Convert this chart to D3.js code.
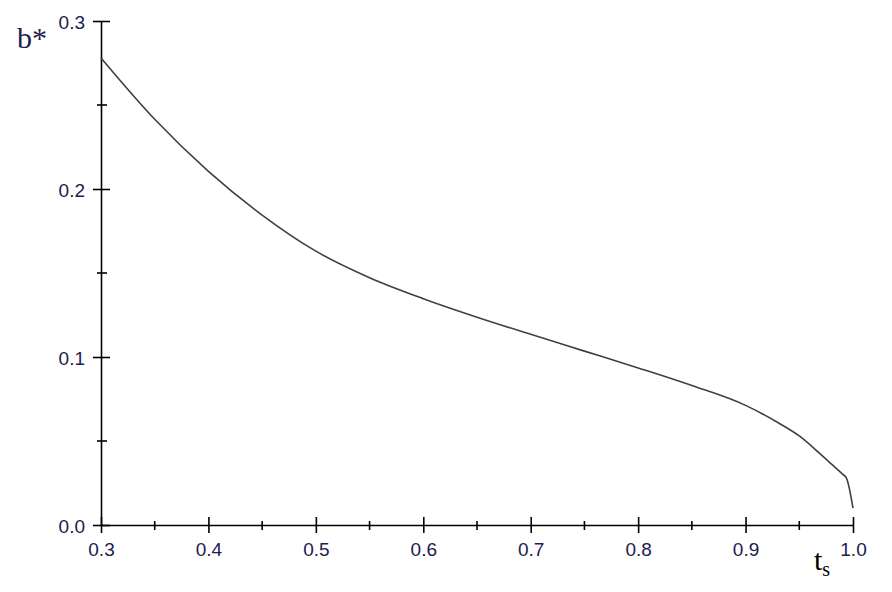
<!DOCTYPE html>
<meta charset="utf-8">
<style>
    body { margin: 0; background: #fff; }
    .axis path, .axis line { stroke: #000; stroke-width: 1.6px; }
    .axis text { font-family: "Liberation Sans", sans-serif; font-size: 19px; fill: #1c2050; }
    .title { font-family: "Liberation Serif", serif; }
</style>
<svg width="892" height="592"></svg>
<script src="https://cdn.jsdelivr.net/npm/d3@7"></script>
<script>

// curve b* against t_s
var ts = [0.30, 0.35, 0.40, 0.45, 0.50, 0.55, 0.60, 0.65, 0.70, 0.75, 0.80, 0.85, 0.90, 0.93, 0.95, 0.97, 0.98, 0.99, 0.994, 1.00];
var bStar = [0.278, 0.2415, 0.2105, 0.1845, 0.163, 0.1472, 0.1347, 0.1237, 0.1135, 0.1035, 0.0935, 0.083, 0.0712, 0.061, 0.053, 0.042, 0.0362, 0.0304, 0.0278, 0.010];

var xMajor = [0.3, 0.4, 0.5, 0.6, 0.7, 0.8, 0.9, 1.0];
var xMinor = [0.35, 0.45, 0.55, 0.65, 0.75, 0.85, 0.95];
var yMajor = [0.0, 0.1, 0.2, 0.3];
var yMinor = [0.05, 0.15, 0.25];

var svg = d3.select("svg");

var x = d3.scaleLinear().domain([0.3, 1.0]).range([101, 853]),
    y = d3.scaleLinear().domain([0, 0.3]).range([525, 21]);

// x axis
var gx = svg.append("g")
    .attr("class", "axis")
    .attr("transform", "translate(0,525)")
    .call(d3.axisBottom(x).tickValues(xMajor).tickSizeOuter(0).tickSizeInner(8).tickPadding(10)
        .tickFormat(d3.format(".1f")));
gx.selectAll(".tick line").attr("y1", -8).attr("y2", 8);

gx.selectAll(".minor")
    .data(xMinor)
    .enter().append("line")
    .attr("class", "minor")
    .attr("x1", function(d) { return x(d); })
    .attr("x2", function(d) { return x(d); })
    .attr("y1", -4).attr("y2", 5);

// y axis
var gy = svg.append("g")
    .attr("class", "axis")
    .attr("transform", "translate(101,0)")
    .call(d3.axisLeft(y).tickValues(yMajor).tickSizeOuter(0).tickSizeInner(8).tickPadding(8)
        .tickFormat(d3.format(".1f")));
gy.selectAll(".tick line").attr("x1", -8).attr("x2", 9);
gy.selectAll(".tick text").attr("dy", "0.4em");

gy.selectAll(".minor")
    .data(yMinor)
    .enter().append("line")
    .attr("class", "minor")
    .attr("y1", function(d) { return y(d); })
    .attr("y2", function(d) { return y(d); })
    .attr("x1", -4).attr("x2", 6);

// the curve
var line = d3.line()
    .x(function(d, i) { return x(ts[i]); })
    .y(function(d) { return y(d); })
    .curve(d3.curveMonotoneX);

svg.append("path")
    .datum(bStar)
    .attr("fill", "none")
    .attr("stroke", "#404040")
    .attr("stroke-width", 1.6)
    .attr("d", line);

// axis titles
svg.append("text")
    .attr("class", "title")
    .attr("x", 17).attr("y", 48)
    .attr("font-size", 30)
    .attr("fill", "#1c2050")
    .text("b*");

var tt = svg.append("text")
    .attr("class", "title")
    .attr("x", 814).attr("y", 570)
    .attr("font-size", 30)
    .attr("fill", "#000");
tt.append("tspan").text("t");
tt.append("tspan").attr("font-size", 20).attr("dy", 6).text("s");

</script>
